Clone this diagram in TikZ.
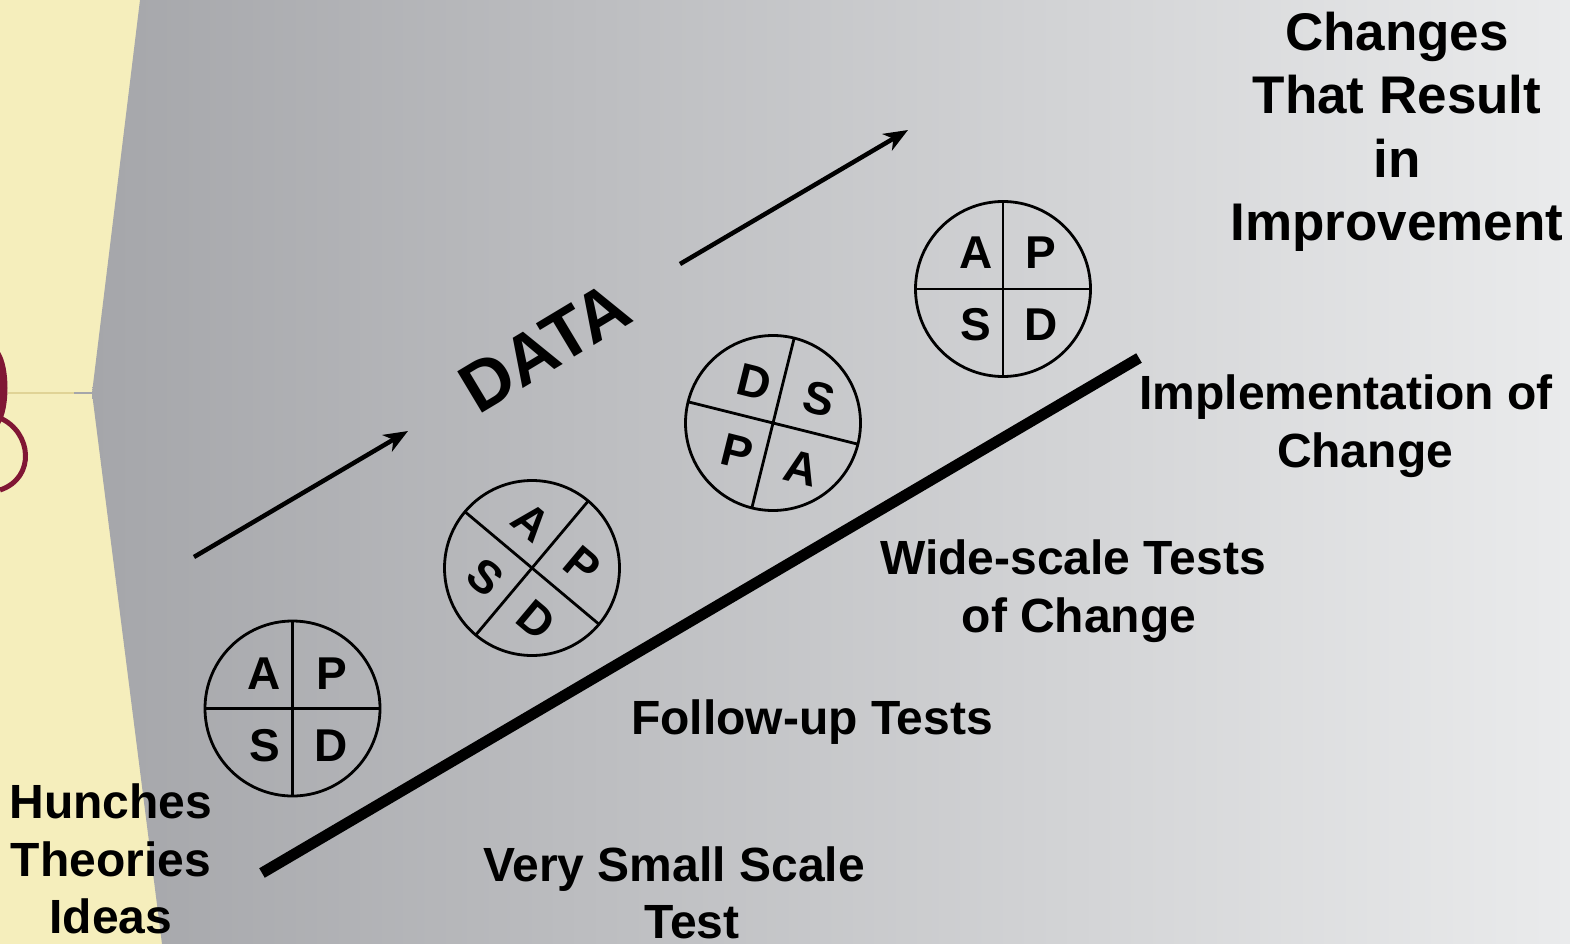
\documentclass[tikz,border=0pt]{standalone}
\usepackage{fontspec}
\setmainfont{Liberation Sans}
\usetikzlibrary{arrows.meta}
\definecolor{bgyellow}{RGB}{245,238,188}
\definecolor{grayL}{RGB}{165,166,170}
\definecolor{grayR}{RGB}{234,235,236}
\definecolor{logored}{RGB}{128,22,52}
\definecolor{tanline}{RGB}{224,211,150}
\tikzset{
  lbl/.style={font=\bfseries\fontsize{48}{57.5}\selectfont, align=center, inner sep=0pt},
  pdsa/.style={circle, draw=black, line width=2.8pt, minimum size=175pt, inner sep=0pt, outer sep=0pt},
  divider/.style={line width=2.8pt},
  ltr/.style={font=\bfseries\fontsize{46}{46}\selectfont, inner sep=0pt},
  flow/.style={line width=4.5pt, -{Stealth[length=24pt,width=19pt,inset=7pt]}},
}
\begin{document}
\begin{tikzpicture}[x=1pt,y=1pt]
\useasboundingbox (0,0) rectangle (1570,-944);
% background
\fill[bgyellow] (0,0) rectangle (1570,-944);
\shade[left color=grayL, right color=grayR] (140,0) -- (92,-393) -- (162,-944) -- (1570,-944) -- (1570,0) -- cycle;
% partial logo at left edge
\fill[logored] (0,-352) .. controls (10,-368) and (10,-408) .. (0,-424) -- cycle;
\draw[logored, line width=5pt] (0,-418) .. controls (32,-432) and (36,-478) .. (0,-490);
\draw[tanline, line width=2pt] (8,-393) -- (74,-393);
\draw[grayL, line width=2pt] (74,-393) -- (92,-393);

% thick line
\coordinate (bs) at (262,-873);
\coordinate (be) at (1139,-358);
\draw[line width=11pt] (bs) -- (be);

% arrows
\coordinate (a1s) at (194,-557);
\coordinate (a1e) at (408,-431);
\coordinate (a2s) at (680,-264);
\coordinate (a2e) at (908,-130);
\draw[flow] (a1s) -- (a1e);
\draw[flow] (a2s) -- (a2e);

\node[font=\bfseries\fontsize{70}{70}\selectfont, rotate=31, inner sep=0pt] (data) at (545,-347) {DATA};

% circle 1
\node[pdsa] (c1) at (292.5,-708.5) {};
\draw[divider] (c1.north) -- (c1.south);
\draw[divider] (c1.west) -- (c1.east);
\begin{scope}[shift={(c1.center)}]
\node[ltr] (c1a) at (-28,35) {A};
\node[ltr] (c1p) at (39,35) {P};
\node[ltr] (c1s) at (-28,-37) {S};
\node[ltr] (c1d) at (39,-37) {D};
\end{scope}

% circle 2
\node[pdsa] (c2) at (532,-568) {};
\draw[divider] (c2.50) -- (c2.230);
\draw[divider] (c2.140) -- (c2.-40);
\begin{scope}[shift={(c2.center)}, rotate=-40]
\node[ltr, transform shape] (c2a) at (-30,35) {A};
\node[ltr, transform shape] (c2p) at (37,35) {P};
\node[ltr, transform shape] (c2s) at (-30,-37) {S};
\node[ltr, transform shape] (c2d) at (37,-37) {D};
\end{scope}

% circle 3
\node[pdsa] (c3) at (773,-423) {};
\draw[divider] (c3.76) -- (c3.256);
\draw[divider] (c3.166) -- (c3.-14);
\begin{scope}[shift={(c3.center)}, rotate=-14]
\node[ltr, transform shape] (c3d) at (-28,35) {D};
\node[ltr, transform shape] (c3s) at (39,35) {S};
\node[ltr, transform shape] (c3p) at (-28,-37) {P};
\node[ltr, transform shape] (c3a) at (39,-37) {A};
\end{scope}

% circle 4
\node[pdsa] (c4) at (1003,-289) {};
\draw[divider] (c4.north) -- (c4.south);
\draw[divider] (c4.west) -- (c4.east);
\begin{scope}[shift={(c4.center)}]
\node[ltr] (c4a) at (-27,36) {A};
\node[ltr] (c4p) at (38,36) {P};
\node[ltr] (c4s) at (-27,-36) {S};
\node[ltr] (c4d) at (38,-36) {D};
\end{scope}

% labels
\node[lbl, font=\bfseries\fontsize{53}{63.5}\selectfont] (goal) at (1397,-132) {Changes\\That Result\\in\\Improvement};
\node[lbl] (impl) at (1365,-426) {Implementation of\hspace*{38pt}\\Change};
\node[lbl] (wide) at (1079,-591) {Wide-scale Tests\hspace*{12pt}\\of Change};
\node[lbl] (follow) at (812,-722) {Follow-up Tests};
\node[lbl] (small) at (692,-893) {Very Small Scale\hspace*{36pt}\\Test};
\node[lbl] (hunch) at (111,-859) {Hunches\\Theories\\Ideas};
\end{tikzpicture}
\end{document}
